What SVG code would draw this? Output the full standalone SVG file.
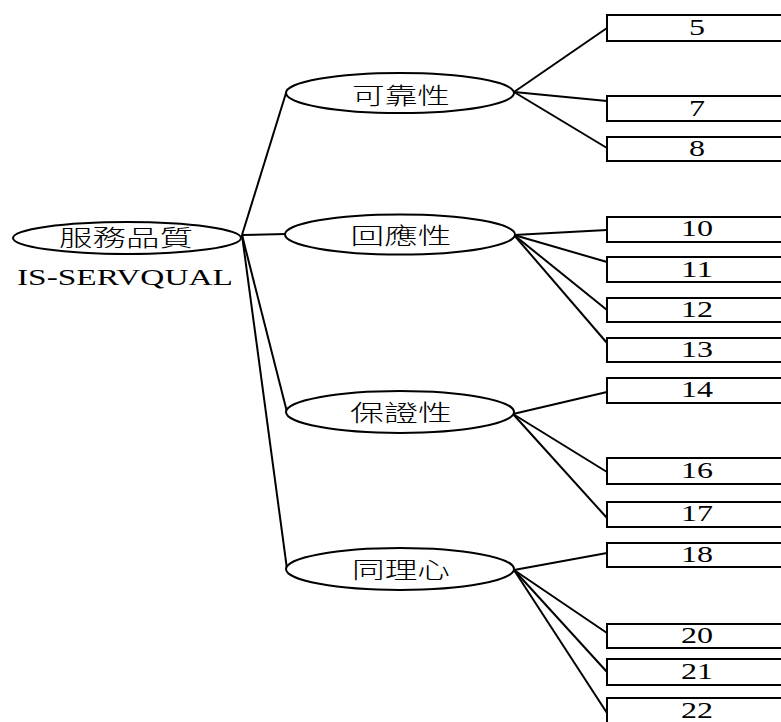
<svg xmlns="http://www.w3.org/2000/svg" width="781" height="722" viewBox="0 0 781 722">
<style>
.e{fill:#fff;stroke:#000;stroke-width:2}
.b{fill:#fff;stroke:#000;stroke-width:2}
.c{fill:none;stroke:#000;stroke-width:2}
.cj{font-family:"Noto Sans CJK TC","Noto Sans CJK SC",serif;font-size:23px;font-weight:200;text-anchor:middle;fill:#000}
.n{font-family:"Liberation Serif","Times New Roman",serif;font-size:24px;text-anchor:middle;fill:#000}
</style>
<rect width="781" height="722" fill="#fff"/>
<g id="connectors">
<line class="c" x1="242" y1="235" x2="286" y2="93"/>
<line class="c" x1="242" y1="235" x2="286" y2="234"/>
<line class="c" x1="242" y1="235" x2="287" y2="412"/>
<line class="c" x1="242" y1="235" x2="287" y2="569"/>
<line class="c" x1="514" y1="92" x2="607" y2="28"/>
<line class="c" x1="514" y1="92" x2="607" y2="101"/>
<line class="c" x1="514" y1="92" x2="607" y2="148"/>
<line class="c" x1="514" y1="235" x2="607" y2="230"/>
<line class="c" x1="514" y1="235" x2="607" y2="262"/>
<line class="c" x1="514" y1="235" x2="607" y2="310"/>
<line class="c" x1="514" y1="235" x2="607" y2="343"/>
<line class="c" x1="513" y1="414" x2="607" y2="392"/>
<line class="c" x1="513" y1="414" x2="607" y2="472"/>
<line class="c" x1="513" y1="414" x2="607" y2="518"/>
<line class="c" x1="514" y1="570" x2="607" y2="553"/>
<line class="c" x1="514" y1="570" x2="607" y2="633"/>
<line class="c" x1="514" y1="570" x2="607" y2="672"/>
<line class="c" x1="514" y1="570" x2="607" y2="713"/>
</g>
<g id="root">
<ellipse class="e" cx="127" cy="238" rx="114" ry="16"/>
<text class="cj" x="126" y="246" textLength="134" lengthAdjust="spacingAndGlyphs">服務品質</text>
<text class="n" x="125" y="285" font-size="25" textLength="216" lengthAdjust="spacingAndGlyphs">IS-SERVQUAL</text>
</g>
<g id="reliability">
<ellipse class="e" cx="400" cy="93" rx="114" ry="20"/>
<text class="cj" x="401" y="104" textLength="98" lengthAdjust="spacingAndGlyphs">可靠性</text>
</g>
<g id="responsiveness">
<ellipse class="e" cx="400" cy="234.5" rx="115" ry="20"/>
<text class="cj" x="401" y="244" textLength="101" lengthAdjust="spacingAndGlyphs">回應性</text>
</g>
<g id="assurance">
<ellipse class="e" cx="400" cy="412" rx="114" ry="21"/>
<text class="cj" x="401" y="421" textLength="102" lengthAdjust="spacingAndGlyphs">保證性</text>
</g>
<g id="empathy">
<ellipse class="e" cx="400" cy="569" rx="114" ry="21"/>
<text class="cj" x="401" y="578" textLength="98" lengthAdjust="spacingAndGlyphs">同理心</text>
</g>
<g id="b5"><rect class="b" x="607" y="15" width="190" height="26"/><text class="n" x="697" y="35" textLength="16" lengthAdjust="spacingAndGlyphs">5</text></g>
<g id="b7"><rect class="b" x="607" y="96" width="190" height="25"/><text class="n" x="697" y="116" textLength="16" lengthAdjust="spacingAndGlyphs">7</text></g>
<g id="b8"><rect class="b" x="607" y="137" width="190" height="24"/><text class="n" x="697" y="156" textLength="16" lengthAdjust="spacingAndGlyphs">8</text></g>
<g id="b10"><rect class="b" x="607" y="217" width="190" height="25"/><text class="n" x="697" y="236" textLength="32" lengthAdjust="spacingAndGlyphs">10</text></g>
<g id="b11"><rect class="b" x="607" y="257" width="190" height="25"/><text class="n" x="697" y="277" textLength="32" lengthAdjust="spacingAndGlyphs">11</text></g>
<g id="b12"><rect class="b" x="607" y="298" width="190" height="24"/><text class="n" x="697" y="317" textLength="32" lengthAdjust="spacingAndGlyphs">12</text></g>
<g id="b13"><rect class="b" x="607" y="338" width="190" height="24"/><text class="n" x="697" y="357" textLength="32" lengthAdjust="spacingAndGlyphs">13</text></g>
<g id="b14"><rect class="b" x="607" y="378" width="190" height="25"/><text class="n" x="697" y="397" textLength="32" lengthAdjust="spacingAndGlyphs">14</text></g>
<g id="b16"><rect class="b" x="607" y="458" width="190" height="26"/><text class="n" x="697" y="478" textLength="32" lengthAdjust="spacingAndGlyphs">16</text></g>
<g id="b17"><rect class="b" x="607" y="502" width="190" height="25"/><text class="n" x="697" y="521" textLength="32" lengthAdjust="spacingAndGlyphs">17</text></g>
<g id="b18"><rect class="b" x="607" y="543" width="190" height="24"/><text class="n" x="697" y="562" textLength="32" lengthAdjust="spacingAndGlyphs">18</text></g>
<g id="b20"><rect class="b" x="607" y="624" width="190" height="24"/><text class="n" x="697" y="643" textLength="32" lengthAdjust="spacingAndGlyphs">20</text></g>
<g id="b21"><rect class="b" x="607" y="659" width="190" height="26"/><text class="n" x="697" y="679" textLength="32" lengthAdjust="spacingAndGlyphs">21</text></g>
<g id="b22"><rect class="b" x="607" y="698" width="190" height="30"/><text class="n" x="697" y="718" textLength="32" lengthAdjust="spacingAndGlyphs">22</text></g>
</svg>
